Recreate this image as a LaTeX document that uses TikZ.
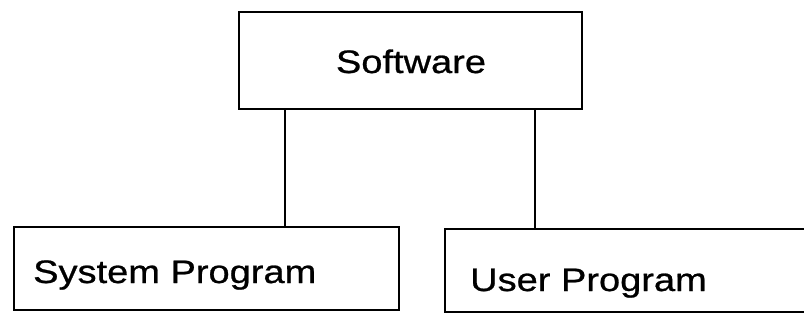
\documentclass[tikz,border=0pt]{standalone}
\usepackage{fontspec}
\newfontfamily\labfont[FakeStretch=1.17,FakeBold=0.8]{Liberation Sans}
\tikzset{
  boxst/.style={draw=black, line width=2.2pt, fill=white, inner sep=0pt},
  labst/.style={font=\labfont\fontsize{32.5}{36}\selectfont, inner sep=0pt, text=black},
  link/.style={draw=black, line width=2pt}
}
\begin{document}
\begin{tikzpicture}[x=1pt, y=-1pt]
\useasboundingbox (0,0) rectangle (804,324);
\fill[white] (0,0) rectangle (804,324);
% boxes
\node[boxst, minimum width=343pt, minimum height=97pt] (soft) at (410.5,60.5) {};
\node[boxst, minimum width=385pt, minimum height=83pt] (sys) at (206.5,268.5) {};
\node[boxst, minimum width=370pt, minimum height=83pt] (user) at (630,270.5) {};
% texts
\node[labst, anchor=base] (softt) at (411,73) {Software};
\node[labst, anchor=base west] (syst) at (33,283) {System Program};
\node[labst, anchor=base west] (usert) at (470,291) {User Program};
% connectors
\coordinate (c1) at (285,0);
\coordinate (c2) at (535,0);
\draw[link] (soft.south -| c1) -- (sys.north -| c1);
\draw[link] (soft.south -| c2) -- (user.north -| c2);
\end{tikzpicture}
\end{document}
